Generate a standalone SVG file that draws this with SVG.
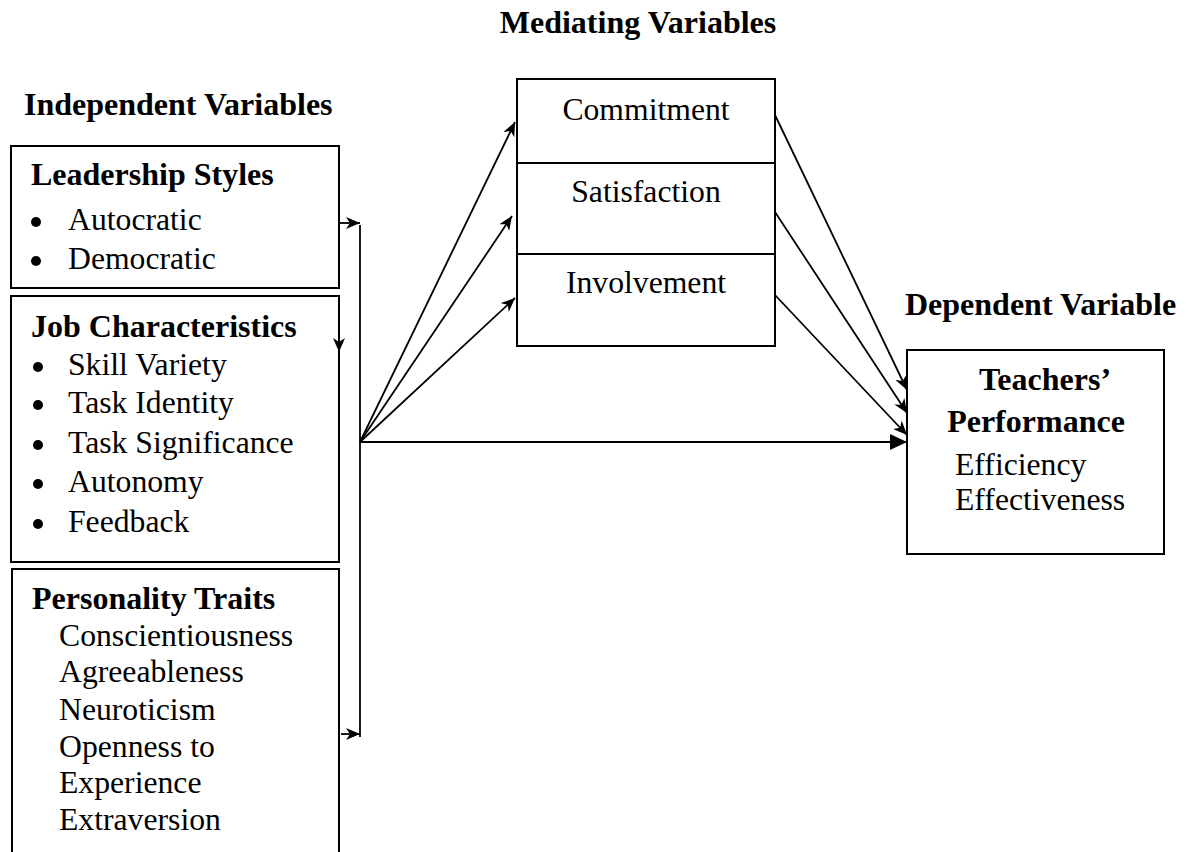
<svg xmlns="http://www.w3.org/2000/svg" width="1196" height="852" viewBox="0 0 1196 852">
<style>
text{font-family:"Liberation Serif","Times New Roman",serif;fill:#000}
.h{font-size:32px;font-weight:bold}
.t{font-size:31.7px}
.dot{fill:#000}
.box{fill:#fff;stroke:#000;stroke-width:2}
.c{fill:none;stroke:#000;stroke-width:1.8}
</style>
<defs>
<marker id="ah" markerUnits="userSpaceOnUse" markerWidth="16" markerHeight="12" refX="14" refY="6" orient="auto">
<path d="M0,0 L14,6 L0,12 L4,6 z" fill="#000"/>
</marker>
<marker id="ahb" markerUnits="userSpaceOnUse" markerWidth="18" markerHeight="16" refX="17" refY="8" orient="auto">
<path d="M0,0 L17,8 L0,16 z" fill="#000"/>
</marker>
</defs>
<rect width="1196" height="852" fill="#fff"/>
<text class="h" x="638" y="33" text-anchor="middle">Mediating Variables</text>
<text class="h" x="24" y="115">Independent Variables</text>
<text class="h" x="905" y="315">Dependent Variable</text>

<g id="leadership">
<rect class="box" x="11" y="146" width="328" height="142"/>
<text class="h" x="31" y="185">Leadership Styles</text>
<circle class="dot" cx="36" cy="222" r="5"/><text class="t" x="68" y="230">Autocratic</text>
<circle class="dot" cx="36" cy="261" r="5"/><text class="t" x="68" y="269">Democratic</text>
</g>

<g id="job">
<rect class="box" x="11" y="296" width="328" height="266"/>
<text class="h" x="31" y="337">Job Characteristics</text>
<circle class="dot" cx="38" cy="367" r="5"/><text class="t" x="68" y="375">Skill Variety</text>
<circle class="dot" cx="38" cy="405" r="5"/><text class="t" x="68" y="413">Task Identity</text>
<circle class="dot" cx="38" cy="445" r="5"/><text class="t" x="68" y="453">Task Significance</text>
<circle class="dot" cx="38" cy="484" r="5"/><text class="t" x="68" y="492">Autonomy</text>
<circle class="dot" cx="38" cy="524" r="5"/><text class="t" x="68" y="532">Feedback</text>
</g>

<g id="personality">
<path class="box" d="M12,870 V569 H339 V870"/>
<text class="h" x="32" y="609">Personality Traits</text>
<text class="t" x="59" y="646">Conscientiousness</text>
<text class="t" x="59" y="682">Agreeableness</text>
<text class="t" x="59" y="720">Neuroticism</text>
<text class="t" x="59" y="757">Openness to</text>
<text class="t" x="59" y="793">Experience</text>
<text class="t" x="59" y="830">Extraversion</text>
</g>

<g id="mediating">
<rect class="box" x="517" y="79" width="258" height="267"/>
<line x1="517" y1="163" x2="775" y2="163" stroke="#000" stroke-width="2"/>
<line x1="517" y1="254" x2="775" y2="254" stroke="#000" stroke-width="2"/>
<text class="t" x="646" y="120" text-anchor="middle">Commitment</text>
<text class="t" x="646" y="202" text-anchor="middle">Satisfaction</text>
<text class="t" x="646" y="293" text-anchor="middle">Involvement</text>
</g>

<g id="performance">
<rect class="box" x="907" y="350" width="257" height="204"/>
<text class="h" x="1045" y="390" text-anchor="middle">Teachers’</text>
<text class="h" x="1036" y="432" text-anchor="middle">Performance</text>
<text class="t" x="955" y="475">Efficiency</text>
<text class="t" x="955" y="510">Effectiveness</text>
</g>

<g id="connectors">
<line class="c" x1="339" y1="223" x2="360" y2="223" marker-end="url(#ah)"/>
<line class="c" x1="339" y1="330" x2="339" y2="352" marker-end="url(#ah)"/>
<line class="c" x1="341" y1="734" x2="360" y2="734" marker-end="url(#ah)"/>
<line class="c" x1="360" y1="225" x2="360" y2="737"/>
<line class="c" x1="360" y1="442" x2="515" y2="122" marker-end="url(#ah)"/>
<line class="c" x1="360" y1="442" x2="512" y2="216" marker-end="url(#ah)"/>
<line class="c" x1="360" y1="442" x2="515" y2="298" marker-end="url(#ah)"/>
<line class="c" x1="360" y1="442" x2="907" y2="442" marker-end="url(#ahb)"/>
<line class="c" x1="775" y1="115" x2="907" y2="390" marker-end="url(#ah)"/>
<line class="c" x1="775" y1="212" x2="907" y2="413" marker-end="url(#ah)"/>
<line class="c" x1="775" y1="295" x2="907" y2="435" marker-end="url(#ah)"/>
</g>
</svg>
